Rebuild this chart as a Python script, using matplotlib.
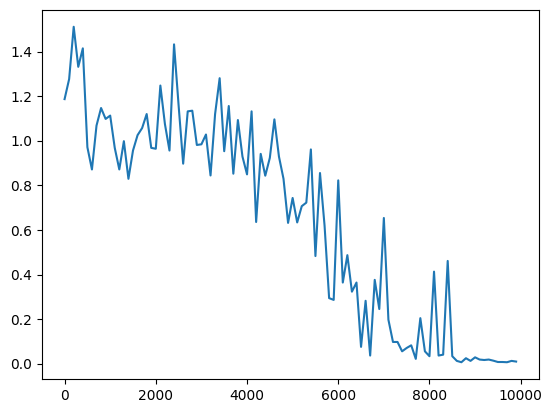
import numpy as np
import matplotlib
matplotlib.use("Agg")
import matplotlib.pyplot as plt

steps = np.arange(0, 10000, 100)
values = [
    1.188, 1.278, 1.513, 1.333, 1.416, 0.972, 0.872, 1.069, 1.148, 1.099,
    1.114, 0.969, 0.872, 0.999, 0.830, 0.957, 1.026, 1.058, 1.121, 0.969,
    0.965, 1.249, 1.076, 0.957, 1.434, 1.160, 0.898, 1.133, 1.136, 0.982,
    0.985, 1.029, 0.845, 1.121, 1.282, 0.954, 1.157, 0.853, 1.094, 0.930,
    0.850, 1.133, 0.636, 0.942, 0.844, 0.924, 1.097, 0.930, 0.830, 0.632,
    0.744, 0.634, 0.707, 0.723, 0.962, 0.483, 0.856, 0.620, 0.294, 0.286,
    0.823, 0.364, 0.487, 0.323, 0.364, 0.075, 0.282, 0.036, 0.376, 0.245,
    0.654, 0.197, 0.097, 0.097, 0.055, 0.070, 0.082, 0.021, 0.204, 0.055,
    0.033, 0.413, 0.036, 0.040, 0.461, 0.033, 0.012, 0.006, 0.024, 0.012,
    0.028, 0.018, 0.016, 0.018, 0.013, 0.007, 0.007, 0.006, 0.012, 0.009,
]

fig, ax = plt.subplots(figsize=(5.51, 4.13), dpi=100)
fig.subplots_adjust(left=42/551, right=538.7/551, top=1-10/413, bottom=1-379/413)
ax.plot(steps, values)
fig.savefig("out.png")
